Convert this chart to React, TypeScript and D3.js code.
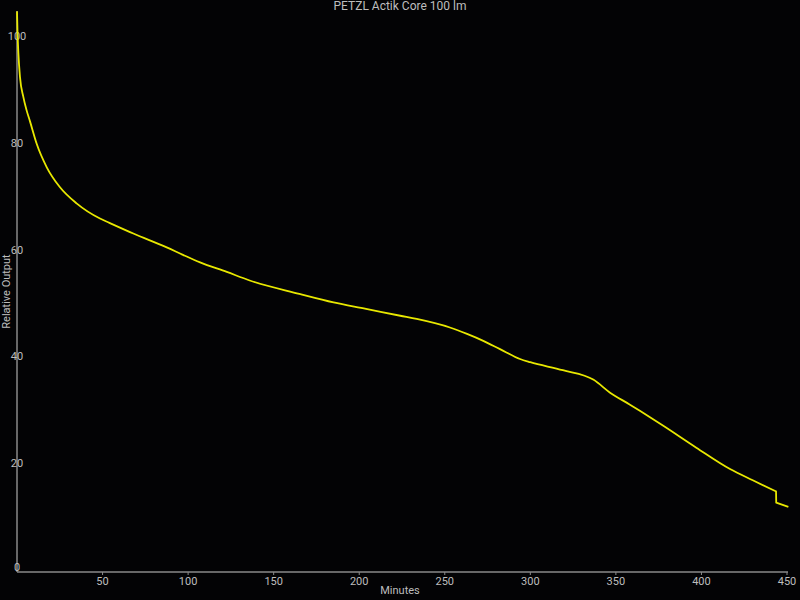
import { useEffect, useRef } from "react";
import * as d3 from "d3";

const title = "PETZL Actik Core 100 lm";
const minutes = [
  0, 0.3, 0.8, 1.75, 3.7, 5.5, 7.6, 11.5, 17.4, 25, 35, 48.5, 54, 68, 87.5, 97,
  107, 122.6, 136, 165, 185, 204, 224, 233.6, 253, 263, 272.5, 282, 294, 300,
  319, 337, 346.6, 358, 364, 377.7, 397, 416.7, 430, 443.6, 443.7, 450.8,
];
const output = [
  104.8, 101, 97, 92.5, 88.8, 86.4, 84.2, 80, 75.6, 71.9, 68.8, 66, 65.2, 63.2,
  60.6, 59.2, 57.8, 56, 54.4, 51.9, 50.3, 49.1, 47.8, 47.2, 45.6, 44.4, 43.1,
  41.6, 39.7, 39.1, 37.6, 35.8, 33.4, 31.2, 30, 27.2, 23.1, 19.1, 17, 14.9,
  12.8, 12,
];
// index where the sudden step happens (drawn as straight segments)
const stepIndex = 39;
const xTicks = [50, 100, 150, 200, 250, 300, 350, 400, 450];
const yTicks = [0, 20, 40, 60, 80, 100];

const App = () => {
  const ref = useRef<SVGSVGElement | null>(null);

  useEffect(() => {
    if (!ref.current) return;
    const svg = d3.select(ref.current);
    svg.selectAll("*").remove();

    const width = 800;
    const height = 600;
    const font = "Roboto, 'Noto Sans', sans-serif";
    const textColor = "#bdbdbd";
    const axisColor = "#8a8a8a";

    const x = d3.scaleLinear().domain([0, 450]).range([17, 787]);
    const y = d3.scaleLinear().domain([0, 100]).range([571, 37]);

    svg
      .append("rect")
      .attr("width", width)
      .attr("height", height)
      .attr("fill", "#030305");

    // axes lines
    svg
      .append("line")
      .attr("x1", x(0))
      .attr("x2", x(450) + 1)
      .attr("y1", 572)
      .attr("y2", 572)
      .attr("stroke", axisColor)
      .attr("stroke-width", 1.5);
    svg
      .append("line")
      .attr("x1", x(0))
      .attr("x2", x(0))
      .attr("y1", 11)
      .attr("y2", 572)
      .attr("stroke", axisColor)
      .attr("stroke-width", 1.5);

    svg
      .selectAll(".xtick")
      .data(xTicks)
      .enter()
      .append("line")
      .attr("x1", (d) => x(d))
      .attr("x2", (d) => x(d))
      .attr("y1", 572)
      .attr("y2", 575)
      .attr("stroke", axisColor);

    svg
      .selectAll(".xlabel")
      .data(xTicks)
      .enter()
      .append("text")
      .attr("x", (d) => x(d))
      .attr("y", 582)
      .attr("text-anchor", "middle")
      .attr("dominant-baseline", "middle")
      .attr("font-family", font)
      .attr("font-size", 11)
      .attr("fill", textColor)
      .text((d) => d);

    svg
      .selectAll(".ylabel")
      .data(yTicks)
      .enter()
      .append("text")
      .attr("x", x(0))
      .attr("y", (d) => (d === 0 ? y(d) - 3 : y(d)))
      .attr("text-anchor", "middle")
      .attr("dominant-baseline", "middle")
      .attr("font-family", font)
      .attr("font-size", 11)
      .attr("fill", textColor)
      .text((d) => d);

    svg
      .append("text")
      .attr("x", width / 2)
      .attr("y", 7)
      .attr("text-anchor", "middle")
      .attr("dominant-baseline", "middle")
      .attr("font-family", font)
      .attr("font-size", 12)
      .attr("fill", textColor)
      .text(title);

    svg
      .append("text")
      .attr("x", width / 2)
      .attr("y", 591)
      .attr("text-anchor", "middle")
      .attr("dominant-baseline", "middle")
      .attr("font-family", font)
      .attr("font-size", 11)
      .attr("fill", textColor)
      .text("Minutes");

    svg
      .append("text")
      .attr("transform", `translate(7,${(11 + 572) / 2}) rotate(-90)`)
      .attr("text-anchor", "middle")
      .attr("dominant-baseline", "middle")
      .attr("font-family", font)
      .attr("font-size", 11)
      .attr("fill", textColor)
      .text("Relative Output");

    const pts: [number, number][] = minutes.map((m, i) => [x(m), y(output[i])]);
    const smooth = d3.line().curve(d3.curveMonotoneX)(pts.slice(0, stepIndex + 1)) || "";
    const tail = pts
      .slice(stepIndex + 1)
      .map((p) => `L${p[0]},${p[1]}`)
      .join("");

    svg
      .append("path")
      .attr("fill", "none")
      .attr("stroke", "#e8e800")
      .attr("stroke-width", 1.8)
      .attr("stroke-linejoin", "round")
      .attr("d", smooth + tail);
  }, []);

  return (
    <svg
      ref={ref}
      width={800}
      height={600}
      style={{ position: "absolute", left: 0, top: 0, display: "block" }}
    />
  );
};

export default App;
